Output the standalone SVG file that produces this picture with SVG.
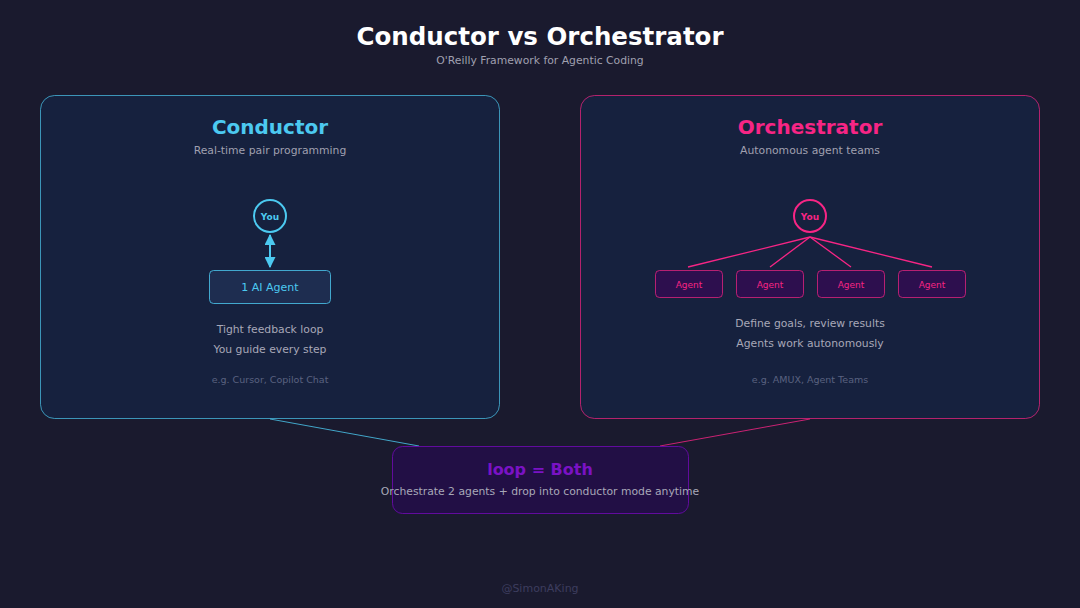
<svg xmlns="http://www.w3.org/2000/svg" width="1080" height="608" viewBox="0 0 1080 608">
<defs>
<style>
text{font-family:"DejaVu Sans",Verdana,sans-serif;text-anchor:middle}
.title{font-size:24.5px;font-weight:bold;fill:#ffffff}
.sub{font-size:10.8px;fill:#a0a0b0}
.h{font-size:20px;font-weight:bold}
.body{font-size:10.8px;fill:#a8a8b8}
.eg{font-size:9.5px;fill:#5a6280}
.panel{fill:#16213e;stroke-width:1}
</style>
<marker id="ac" viewBox="0 0 10 10" refX="9" refY="5" markerWidth="5.5" markerHeight="5.5" orient="auto-start-reverse"><path d="M0,0L10,5L0,10z" fill="#4cc9f0"/></marker>
</defs>
<rect width="1080" height="608" fill="#1a1a2e"/>
<text class="title" x="540" y="45">Conductor vs Orchestrator</text>
<text class="sub" x="540" y="63.5">O'Reilly Framework for Agentic Coding</text>

<g id="conductor">
<rect class="panel" x="40.5" y="95.5" width="459" height="323" rx="14" stroke="#4cc9f0" stroke-opacity="0.7"/>
<text class="h" x="270" y="134" fill="#4cc9f0">Conductor</text>
<text class="sub" x="270" y="153.5">Real-time pair programming</text>
<text class="body" x="270" y="332.5">Tight feedback loop</text>
<text class="body" x="270" y="352.5">You guide every step</text>
<text class="eg" x="270" y="382.5">e.g. Cursor, Copilot Chat</text>
</g>
<g id="orchestrator">
<rect class="panel" x="580.5" y="95.5" width="459" height="323" rx="14" stroke="#f72585" stroke-opacity="0.7"/>
<text class="h" x="810" y="134" fill="#f72585">Orchestrator</text>
<text class="sub" x="810" y="153.5">Autonomous agent teams</text>
<text class="body" x="810" y="326.5">Define goals, review results</text>
<text class="body" x="810" y="346.5">Agents work autonomously</text>
<text class="eg" x="810" y="382.5">e.g. AMUX, Agent Teams</text>
</g>

<g id="connectors">
<line x1="270" y1="419" x2="419" y2="446" stroke="#4cc9f0" stroke-width="1" opacity="0.8"/>
<line x1="810" y1="419" x2="660" y2="446" stroke="#f72585" stroke-width="1" opacity="0.8"/>
<line x1="270" y1="235" x2="270" y2="267" stroke="#4cc9f0" stroke-width="2" marker-start="url(#ac)" marker-end="url(#ac)"/>
<g stroke="#f72585" stroke-width="1.3">
<line x1="810" y1="237" x2="688" y2="267"/>
<line x1="810" y1="237" x2="770" y2="267"/>
<line x1="810" y1="237" x2="851" y2="267"/>
<line x1="810" y1="237" x2="932" y2="267"/>
</g>
</g>

<g id="conductor-you">
<circle cx="270" cy="216" r="16" fill="#16213e" stroke="#4cc9f0" stroke-width="2"/>
<text x="270" y="219.5" font-size="9" font-weight="bold" fill="#4cc9f0">You</text>
</g>
<g id="ai-agent">
<rect x="209.5" y="270.5" width="121" height="33" rx="4" fill="#1e2d50" stroke="#4cc9f0" stroke-opacity="0.8"/>
<text x="270" y="291" font-size="11" fill="#4cc9f0">1 AI Agent</text>
</g>

<g id="orch-you">
<circle cx="810" cy="216" r="16" fill="#16213e" stroke="#f72585" stroke-width="2"/>
<text x="810" y="219.5" font-size="9" font-weight="bold" fill="#f72585">You</text>
</g>
<g id="agent1"><rect x="655.5" y="270.5" width="67" height="27" rx="4" fill="#2d0f4e" stroke="#f72585" stroke-opacity="0.7"/><text x="689" y="287.5" font-size="9" fill="#f72585">Agent</text></g>
<g id="agent2"><rect x="736.5" y="270.5" width="67" height="27" rx="4" fill="#2d0f4e" stroke="#f72585" stroke-opacity="0.7"/><text x="770" y="287.5" font-size="9" fill="#f72585">Agent</text></g>
<g id="agent3"><rect x="817.5" y="270.5" width="67" height="27" rx="4" fill="#2d0f4e" stroke="#f72585" stroke-opacity="0.7"/><text x="851" y="287.5" font-size="9" fill="#f72585">Agent</text></g>
<g id="agent4"><rect x="898.5" y="270.5" width="67" height="27" rx="4" fill="#2d0f4e" stroke="#f72585" stroke-opacity="0.7"/><text x="932" y="287.5" font-size="9" fill="#f72585">Agent</text></g>

<g id="loop">
<rect x="392.5" y="446.5" width="296" height="67" rx="10" fill="#220f45" stroke="#7209b7" stroke-opacity="0.8"/>
<text x="540" y="475" font-size="16" font-weight="bold" fill="#7a12c4">loop = Both</text>
<text class="body" x="540" y="495">Orchestrate 2 agents + drop into conductor mode anytime</text>
</g>

<text x="540" y="592" font-size="11" fill="#3d3d5e">@SimonAKing</text>
</svg>
